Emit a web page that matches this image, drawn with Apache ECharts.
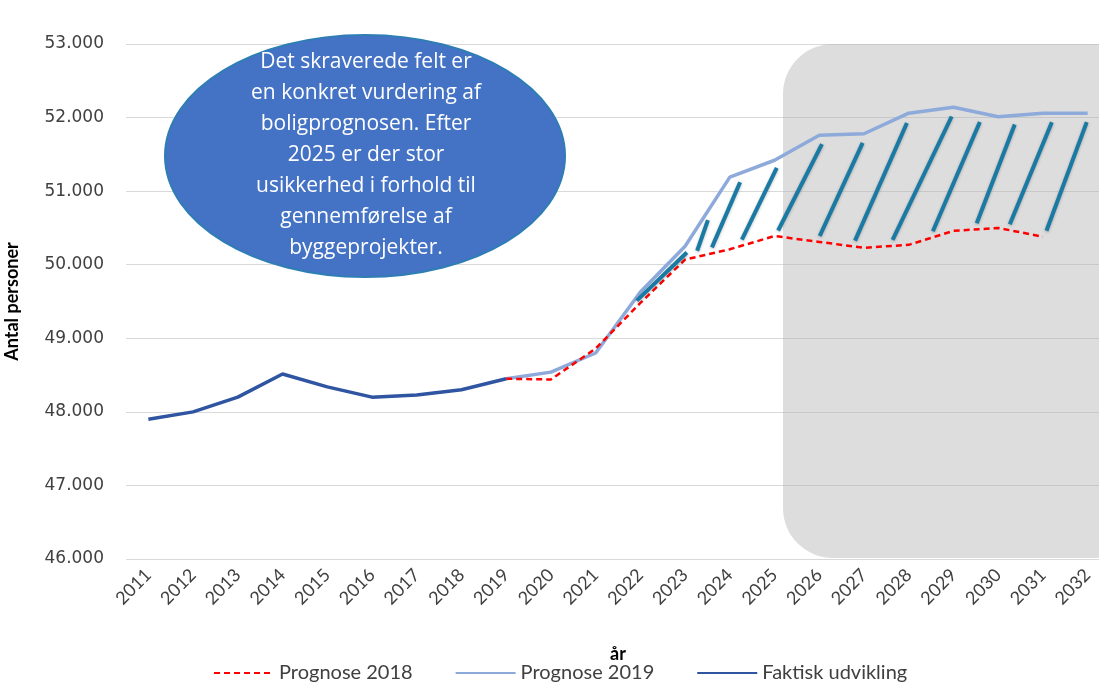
<!DOCTYPE html>
<html>
<head>
<meta charset="utf-8">
<script src="https://cdn.jsdelivr.net/npm/echarts@6/dist/echarts.min.js"></script>
<style>
html,body{margin:0;padding:0;background:#fff;}
#chart{width:1099px;height:685px;}
</style>
</head>
<body>
<div id="chart"></div>
<script>
// år på x-aksen
var aar = ['2011','2012','2013','2014','2015','2016','2017','2018','2019','2020','2021',
           '2022','2023','2024','2025','2026','2027','2028','2029','2030','2031','2032'];
var faktisk = [47900,48000,48200,48515,48340,48200,48230,48300,48450,
               null,null,null,null,null,null,null,null,null,null,null,null,null];
var prognose2019 = [null,null,null,null,null,null,null,null,48450,48540,48800,
                    49630,50250,51190,51420,51760,51780,52060,52140,52010,52060,52060];
var prognose2018 = [null,null,null,null,null,null,null,null,48450,48440,48860,
                    49480,50070,50210,50390,50310,50230,50270,50460,50500,50380,null];
var yTicks = [46000,47000,48000,49000,50000,51000,52000,53000];
// skravering: [fra år (nederst), til år (øverst)]
var skravering = [[2021.92,2023.04],[2023.27,2023.51],[2023.60,2024.23],[2024.27,2025.05],
                  [2025.08,2026.06],[2026.01,2026.97],[2026.80,2027.96],[2027.64,2028.96],
                  [2028.54,2029.59],[2029.52,2030.37],[2030.26,2031.20],[2031.08,2031.98]];

function interp(arr, year){
    var pts = [];
    arr.forEach(function(v,i){ if(v!=null) pts.push([2011+i, v]); });
    if(year <= pts[0][0]) return pts[0][1];
    if(year >= pts[pts.length-1][0]) return pts[pts.length-1][1];
    for(var i=0;i<pts.length-1;i++){
        if(year>=pts[i][0] && year<=pts[i+1][0]){
            var t = (year-pts[i][0])/(pts[i+1][0]-pts[i][0]);
            return pts[i][1] + t*(pts[i+1][1]-pts[i][1]);
        }
    }
}
var skravData = skravering.map(function(s){
    return [s[0], interp(prognose2018, s[0]), s[1], interp(prognose2019, s[1])];
});

var chart = echarts.init(document.getElementById('chart'));
var txt = '#404040';
var option = {
    animation:false,
    backgroundColor:'#fff',
    grid:{left:126, right:-11, top:44, bottom:126, outerBoundsMode:'none', containLabel:false},
    legend:{
        data:['Prognose 2018','Prognose 2019','Faktisk udvikling'],
        left:208, bottom:-3,
        itemWidth:60, itemHeight:14, itemGap:42,
        itemStyle:{opacity:0},
        textStyle:{color:txt, fontSize:20, fontFamily:'Lato'}
    },
    xAxis:[{
        type:'category',
        data:aar,
        boundaryGap:true,
        name:'år',
        nameLocation:'middle',
        nameGap:86,
        nameTextStyle:{color:'#000', fontSize:18, fontWeight:'bold', fontFamily:'Lato'},
        axisLine:{show:false},
        axisTick:{show:false},
        axisLabel:{rotate:45, margin:13, color:txt, fontSize:18, fontFamily:'Lato'}
    },{
        type:'value', min:2010.5, max:2032.5, show:false
    }],
    yAxis:{
        type:'value',
        min:46000, max:53000, interval:1000,
        name:'Antal personer',
        nameLocation:'middle',
        nameGap:105,
        nameTextStyle:{color:'#000', fontSize:18, fontWeight:'bold', fontFamily:'Lato'},
        axisLine:{show:false},
        axisTick:{show:false},
        axisLabel:{
            margin:22, color:txt, fontSize:17, fontFamily:'DejaVu Sans',
            formatter:function(v){ return yTicks.indexOf(v)>=0 ? String(v/1000)+'.000' : ''; }
        },
        splitLine:{lineStyle:{color:'#d9d9d9', width:1}}
    },
    graphic:[
        {type:'rect', z:1, silent:true,
         shape:{x:783, y:44, width:360, height:514, r:50},
         style:{fill:'rgba(180,180,180,0.45)'}},
        {type:'ellipse', z:100,
         shape:{cx:365, cy:156, rx:200, ry:121},
         style:{fill:'#4472C4', stroke:'#2e7db5', lineWidth:2}},
        {type:'text', z:101, x:366, y:155,
         style:{
            text:'Det skraverede felt er\nen konkret vurdering af\nboligprognosen. Efter\n2025 er der stor\nusikkerhed i forhold til\ngennemførelse af\nbyggeprojekter.',
            fill:'#fff', font:'21px "Open Sans"', lineHeight:31,
            align:'center', verticalAlign:'middle'
         }}
    ],
    series:[
        {
            name:'Prognose 2018', type:'line', data:prognose2018, symbol:'none', z:4,
            itemStyle:{color:'#ff0000'},
            lineStyle:{color:'#ff0000', width:2.5, type:[6,4]}
        },
        {
            name:'Prognose 2019', type:'line', data:prognose2019, symbol:'none', z:3,
            itemStyle:{color:'#8eaadb'},
            lineStyle:{color:'#8eaadb', width:3.5}
        },
        {
            name:'Faktisk udvikling', type:'line', data:faktisk, symbol:'none', z:5,
            itemStyle:{color:'#2f55a2'},
            lineStyle:{color:'#2f55a2', width:3.5}
        },
        {
            name:'skravering', type:'custom', xAxisIndex:1, z:6,
            data:skravData,
            encode:{x:[0,2], y:[1,3]},
            renderItem:function(params, api){
                var p0 = api.coord([api.value(0), api.value(1)]);
                var p1 = api.coord([api.value(2), api.value(3)]);
                return {
                    type:'line',
                    shape:{x1:p0[0], y1:p0[1]-6, x2:p1[0], y2:p1[1]+9},
                    style:{stroke:'#1a7aa3', lineWidth:4, lineCap:'butt',
                           shadowColor:'rgba(0,0,0,0.25)', shadowBlur:3, shadowOffsetY:1}
                };
            }
        }
    ]
};
chart.setOption(option);
window.onresize = chart.resize;
</script>
</body>
</html>
